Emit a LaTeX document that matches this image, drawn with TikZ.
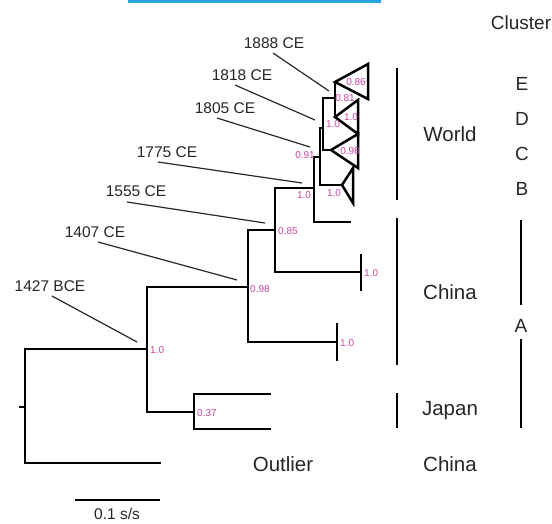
\documentclass[tikz,border=0pt]{standalone}
\usepackage{fontspec}
\setmainfont{Liberation Sans}
\begin{document}
\begin{tikzpicture}[x=1pt,y=-1pt,
  branch/.style={line width=2.8pt,line cap=rect},
  tri/.style={line width=2.5pt,line join=miter},
  pointer/.style={line width=1.2pt,draw={rgb,255:red,40;green,40;blue,40}},
  datelbl/.style={font=\fontsize{15.5}{17}\selectfont,inner sep=0pt,text=black!85},
  bs/.style={font=\fontsize{10}{11}\selectfont,inner sep=0pt,text={rgb,255:red,200;green,70;blue,160}},
  bigtxt/.style={font=\fontsize{20.5}{23}\selectfont,inner sep=0pt,text=black!85},
  clus/.style={font=\fontsize{19}{21}\selectfont,inner sep=0pt,text=black!85},
  bar/.style={line width=2.8pt}]
\useasboundingbox (0,0) rectangle (552,523);
\fill[fill={rgb,255:red,40;green,163;blue,224}] (128,0) rectangle (381,3);

% tree coordinates
\coordinate (rstub) at (20,407);
\coordinate (r) at (25,407);
\coordinate (out) at (160,463);
\coordinate (nA) at (147,349);
\coordinate (nJ) at (194,412);
\coordinate (j1) at (270,394);
\coordinate (j2) at (270,429);
\coordinate (n1407) at (248,287);
\coordinate (c2) at (337,342);
\coordinate (c2a) at (337,324);
\coordinate (c2b) at (337,360);
\coordinate (n1555) at (275,230);
\coordinate (c1) at (361,272);
\coordinate (c1a) at (361,255);
\coordinate (c1b) at (361,290);
\coordinate (n1775) at (314,188);
\coordinate (w1) at (350,222);
\coordinate (n1805) at (320,157);
\coordinate (n1818) at (323,128);
\coordinate (n1888) at (335,98);
\coordinate (eA) at (335,82);
\coordinate (dA) at (335,117);
\coordinate (cA) at (331,150);
\coordinate (bA) at (342,185);

% branches
\draw[branch] (rstub) -- (r);
\draw[branch] (r) |- (nA);
\draw[branch] (r) |- (out);
\draw[branch] (nA) |- (n1407);
\draw[branch] (nA) |- (nJ);
\draw[branch] (nJ) |- (j1);
\draw[branch] (nJ) |- (j2);
\draw[branch] (n1407) |- (n1555);
\draw[branch] (n1407) |- (c2);
\draw[branch] (c2a) -- (c2b);
\draw[branch] (n1555) |- (n1775);
\draw[branch] (n1555) |- (c1);
\draw[branch] (c1a) -- (c1b);
\draw[branch] (n1775) |- (n1805);
\draw[branch] (n1775) |- (w1);
\draw[branch] (n1805) |- (n1818);
\draw[branch] (n1805) |- (bA);
\draw[branch] (n1818) |- (n1888);
\draw[branch] (n1818) |- (cA);
\draw[branch] (eA) -- (dA);

% collapsed clades
\draw[tri] (eA) -- (368,64) -- (368,99) -- cycle;
\draw[tri] (dA) -- (358,100) -- (358,134) -- cycle;
\draw[tri] (cA) -- (358,134) -- (358,168) -- cycle;
\draw[tri] (bA) -- (353,168) -- (353,203) -- cycle;

% support values
\node[bs,anchor=west] (s1) at (150,350) {1.0};
\node[bs,anchor=west] (s2) at (197,413) {0.37};
\node[bs,anchor=west] (s3) at (250,289) {0.98};
\node[bs,anchor=west] (s4) at (340,343) {1.0};
\node[bs,anchor=west] (s5) at (278,231) {0.85};
\node[bs,anchor=west] (s6) at (364,273) {1.0};
\node[bs] (s7) at (304,195) {1.0};
\node[bs] (s8) at (305,155) {0.91};
\node[bs] (s9) at (333,124) {1.0};
\node[bs] (s10) at (345,98) {0.81};
\node[bs] (s11) at (356,82) {0.86};
\node[bs] (s12) at (351,117) {1.0};
\node[bs] (s13) at (350,151) {0.98};
\node[bs] (s14) at (334,193) {1.0};

% date labels and pointers
\node[datelbl] (L1888) at (274,43) {1888 CE};
\node[datelbl] (L1818) at (242,75) {1818 CE};
\node[datelbl] (L1805) at (225,108) {1805 CE};
\node[datelbl] (L1775) at (167,152) {1775 CE};
\node[datelbl] (L1555) at (136,191) {1555 CE};
\node[datelbl] (L1407) at (95,232) {1407 CE};
\node[datelbl] (L1427) at (50,286) {1427 BCE};
\coordinate (p1888a) at (273,53);  \coordinate (p1888b) at (329,91);
\coordinate (p1818a) at (235,85);  \coordinate (p1818b) at (315,120);
\coordinate (p1805a) at (217,118); \coordinate (p1805b) at (310,147);
\coordinate (p1775a) at (158,162); \coordinate (p1775b) at (302,183);
\coordinate (p1555a) at (127,202); \coordinate (p1555b) at (265,223);
\coordinate (p1407a) at (98,242);  \coordinate (p1407b) at (237,280);
\coordinate (p1427a) at (52,296);  \coordinate (p1427b) at (137,342);
\draw[pointer] (p1888a) -- (p1888b);
\draw[pointer] (p1818a) -- (p1818b);
\draw[pointer] (p1805a) -- (p1805b);
\draw[pointer] (p1775a) -- (p1775b);
\draw[pointer] (p1555a) -- (p1555b);
\draw[pointer] (p1407a) -- (p1407b);
\draw[pointer] (p1427a) -- (p1427b);

% scale bar
\coordinate (sb1) at (75,500);
\coordinate (sb2) at (160,500);
\draw[branch,line cap=butt] (sb1) -- (sb2);
\node[datelbl] (sbl) at (117,514) {0.1 s/s};

% right-hand annotations
\node[bigtxt] (outl) at (283,464) {Outlier};
\node[clus] (clh) at (521,23) {Cluster};
\coordinate (wb1) at (397,68);  \coordinate (wb2) at (397,200);
\coordinate (cb1) at (397,218); \coordinate (cb2) at (397,365);
\coordinate (jb1) at (397,393); \coordinate (jb2) at (397,428);
\draw[bar] (wb1) -- (wb2);
\draw[bar] (cb1) -- (cb2);
\draw[bar] (jb1) -- (jb2);
\node[bigtxt] (world) at (450,134) {World};
\node[bigtxt] (china1) at (450,292) {China};
\node[bigtxt] (japan) at (450,411) {Japan};
\node[bigtxt] (china2) at (450,464) {China};
\node[clus] (cE) at (522,84) {E};
\node[clus] (cD) at (522,119) {D};
\node[clus] (cC) at (522,154) {C};
\node[clus] (cB) at (522,189) {B};
\node[clus] (cAlbl) at (521,326) {A};
\coordinate (ab1) at (521,220); \coordinate (ab1m) at (521,305);
\coordinate (ab2m) at (521,339); \coordinate (ab2) at (521,428);
\draw[bar] (ab1) -- (ab1m);
\draw[bar] (ab2m) -- (ab2);
\end{tikzpicture}
\end{document}
